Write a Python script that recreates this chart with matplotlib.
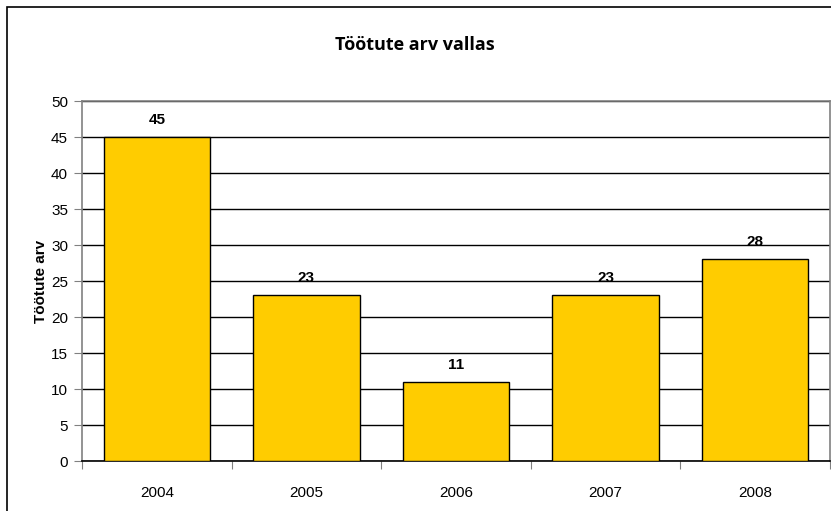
import numpy as np
import matplotlib.pyplot as plt
from matplotlib.patches import Rectangle

years = ['2004', '2005', '2006', '2007', '2008']
values = [45, 23, 11, 23, 28]

fig = plt.figure(figsize=(8.31, 5.11), dpi=100)
ax = fig.add_axes([82 / 831, 50 / 511, 748 / 831, 360 / 511])

# outer chart border (right/bottom run off the picture)
fig.patches.append(Rectangle((7 / 831, -0.1), 1.2, 1 - 7 / 511 + 0.1,
                             transform=fig.transFigure, fill=False,
                             edgecolor='black', linewidth=1.2))

x = np.arange(len(years))
ax.bar(x, values, width=0.71, color='#FFCC00', edgecolor='black',
       linewidth=1, zorder=3)
for xi, v in zip(x, values):
    ax.text(xi, v + 1.4, str(v), ha='center', va='bottom', fontsize=11,
            fontweight='bold', family='Liberation Sans')

ax.set_xlim(-0.5, len(years) - 0.5)
ax.set_ylim(0, 50)
ax.set_yticks(np.arange(0, 51, 5))
ax.yaxis.grid(True, color='black', linewidth=1, zorder=0)
ax.set_axisbelow(True)

# category boundaries as ticks, labels in between
ax.set_xticks(np.arange(-0.5, len(years), 1))
ax.set_xticklabels([])
ax.set_xticks(x, minor=True)
ax.set_xticklabels(years, minor=True, family='Liberation Sans', fontsize=11)
ax.tick_params(axis='x', which='major', length=6, color='gray', direction='out')
ax.tick_params(axis='x', which='minor', length=0, pad=18)
ax.tick_params(axis='y', length=6, color='gray', direction='out', pad=4)
for lab in ax.get_yticklabels():
    lab.set_family('Liberation Sans')
    lab.set_fontsize(11)

for side in ['top', 'right', 'left', 'bottom']:
    ax.spines[side].set_color('gray')
    ax.spines[side].set_linewidth(1.2)
ax.spines['bottom'].set_color('black')

ax.set_ylabel('Töötute arv', fontsize=11, fontweight='bold',
              family='Liberation Sans', labelpad=2)
fig.text(415 / 831, 1 - 45 / 511, 'Töötute arv vallas', ha='center',
         va='center', fontsize=13, fontweight='bold', family='Open Sans')

fig.savefig('out.png', dpi=100)
